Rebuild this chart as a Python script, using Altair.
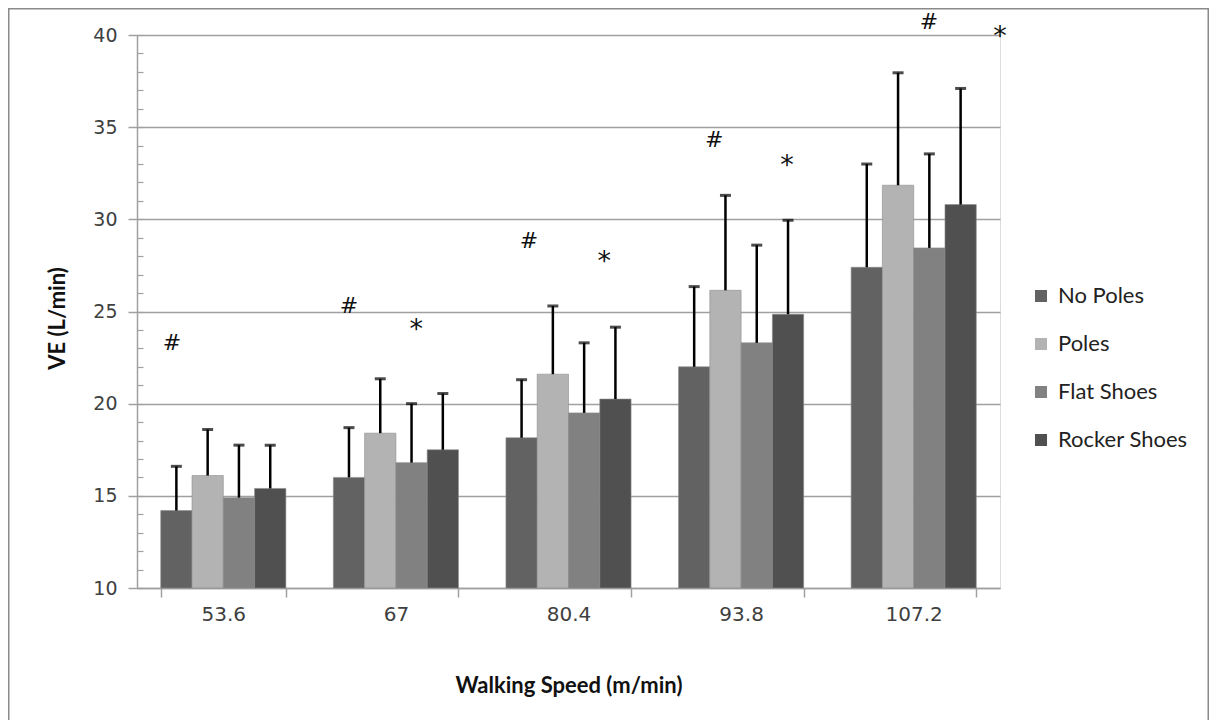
import altair as alt
import pandas as pd

speeds = ["53.6", "67", "80.4", "93.8", "107.2"]
conditions = ["No Poles", "Poles", "Flat Shoes", "Rocker Shoes"]
colors = ["#626262", "#b3b3b3", "#818181", "#505050"]

no_poles = [14.2, 16.0, 18.15, 22.0, 27.4]
poles = [16.1, 18.4, 21.6, 26.15, 31.85]
flat_shoes = [14.9, 16.8, 19.5, 23.3, 28.45]
rocker_shoes = [15.4, 17.5, 20.25, 24.85, 30.8]

no_poles_sd = [2.4, 2.7, 3.15, 4.35, 5.6]
poles_sd = [2.5, 2.95, 3.7, 5.15, 6.1]
flat_shoes_sd = [2.85, 3.2, 3.8, 5.3, 5.1]
rocker_shoes_sd = [2.35, 3.05, 3.9, 5.1, 6.3]

# significance markers: speed, symbol, value height, slot position within group (0..4 bar widths)
mark_speed = ["53.6", "67", "67", "80.4", "80.4", "93.8", "93.8", "107.2", "107.2"]
mark_symbol = ["#", "#", "*", "#", "*", "#", "*", "#", "*"]
mark_value = [23.3, 25.3, 24.0, 28.8, 27.7, 34.3, 32.9, 40.7, 39.9]
mark_slot = [0.36, 0.5, 2.65, 0.74, 3.14, 1.14, 3.47, 2.49, 4.76]

means = [no_poles, poles, flat_shoes, rocker_shoes]
sds = [no_poles_sd, poles_sd, flat_shoes_sd, rocker_shoes_sd]
rows = []
for i, s in enumerate(speeds):
    for c, m, sd in zip(conditions, means, sds):
        rows.append({"speed": s, "cond": c, "mean": m[i], "upper": m[i] + sd[i]})
df = pd.DataFrame(rows)

ann = pd.DataFrame({"speed": mark_speed, "sym": mark_symbol,
                    "val": mark_value, "slot": mark_slot})

GRAY = "#a0a0a0"

x_enc = alt.X("speed:N", sort=speeds,
              scale=alt.Scale(paddingInner=0.275, paddingOuter=0.1375),
              axis=alt.Axis(title="Walking Speed (m/min)", labelAngle=0,
                            tickBand="extent", domainColor=GRAY, domainWidth=1.5,
                            tickColor=GRAY, tickWidth=1.5, tickSize=9,
                            labelFont="DejaVu Sans", labelFontSize=20,
                            labelColor="#404040", labelPadding=7,
                            titleFont="Lato", titleFontSize=22, titleFontWeight="bold",
                            titleColor="#111111", titleY=97, titleBaseline="middle"))
xoff = alt.XOffset("cond:N", sort=conditions,
                   scale=alt.Scale(paddingInner=0, paddingOuter=0))

y_scale = alt.Scale(domain=[10, 40], zero=False, nice=False)

bars = alt.Chart(df).mark_bar(stroke="#8c8c8c", strokeWidth=0.6).encode(
    x=x_enc,
    xOffset=xoff,
    y=alt.Y("mean:Q", scale=y_scale,
            axis=alt.Axis(values=[10, 15, 20, 25, 30, 35, 40], grid=True,
                          gridColor=GRAY, gridWidth=1.5, domainColor=GRAY,
                          domainWidth=1.5, tickColor=GRAY, tickWidth=1.5, tickSize=9,
                          labelFont="DejaVu Sans", labelFontSize=19,
                          labelColor="#404040", labelPadding=11,
                          title="VE (L/min)", titleFont="Lato", titleFontSize=22,
                          titleFontWeight="bold", titleColor="#111111",
                          titleAngle=270, titleX=-80, titleY=283,
                          titleAlign="center", titleBaseline="middle")),
    y2=alt.datum(10),
    color=alt.Color("cond:N", sort=conditions,
                    scale=alt.Scale(domain=conditions, range=colors),
                    legend=alt.Legend(title=None, orient="none", legendX=893,
                                      legendY=250, direction="vertical",
                                      symbolType="square", symbolSize=144,
                                      symbolStrokeWidth=0, labelFont="Lato",
                                      labelFontSize=22, labelColor="#222222",
                                      rowPadding=26, labelOffset=6, padding=0)),
)

err = alt.Chart(df).mark_rule(color="black", strokeWidth=2.5).encode(
    x=x_enc, xOffset=xoff,
    y=alt.Y("mean:Q", scale=y_scale), y2="upper:Q")

caps = alt.Chart(df).mark_tick(color="black", thickness=3, size=11).encode(
    x=x_enc, xOffset=xoff, y=alt.Y("upper:Q", scale=y_scale))

ann_enc = dict(
    x=x_enc,
    xOffset=alt.XOffset("slot:Q", scale=alt.Scale(domain=[0, 4], nice=False, zero=False)),
    y=alt.Y("val:Q", scale=y_scale),
    text="sym:N")

hash_text = alt.Chart(ann).transform_filter(alt.datum.sym == "#").mark_text(
    font="DejaVu Sans", fontSize=22, color="#111111",
    align="center", baseline="middle").encode(**ann_enc)

star_text = alt.Chart(ann).transform_filter(alt.datum.sym == "*").mark_text(
    font="DejaVu Sans", fontSize=27, color="#111111",
    align="center", baseline="middle").encode(**ann_enc)

frame = alt.Chart(pd.DataFrame({"k": [0]})).mark_rect(
    fillOpacity=0, stroke="#8a8a8a", strokeWidth=1.5).encode(
    x=alt.value(-128.25), x2=alt.value(1071.25),
    y=alt.value(-26.25), y2=alt.value(720))

minor = alt.Chart(df).mark_point(opacity=0).encode(
    y=alt.Y("mean:Q", scale=alt.Scale(domain=[10, 40], zero=False, nice=False),
            axis=alt.Axis(orient="left", values=list(range(10, 41)), labels=False,
                          domain=False, grid=False, tickSize=6, offset=-6,
                          tickColor=GRAY, tickWidth=1.2, title=None)))

main = alt.layer(frame, bars, err, caps, hash_text, star_text).resolve_scale(
    xOffset="independent")

chart = alt.layer(main, minor).resolve_scale(y="independent").properties(
    width=863, height=553,
    padding={"left": 129, "top": 27, "right": 209, "bottom": 132},
    autosize=alt.AutoSizeParams(type="none"),
).configure_view(stroke=None).configure(background="white")

chart.save("out.html", embed_options={"renderer": "svg", "actions": False})
